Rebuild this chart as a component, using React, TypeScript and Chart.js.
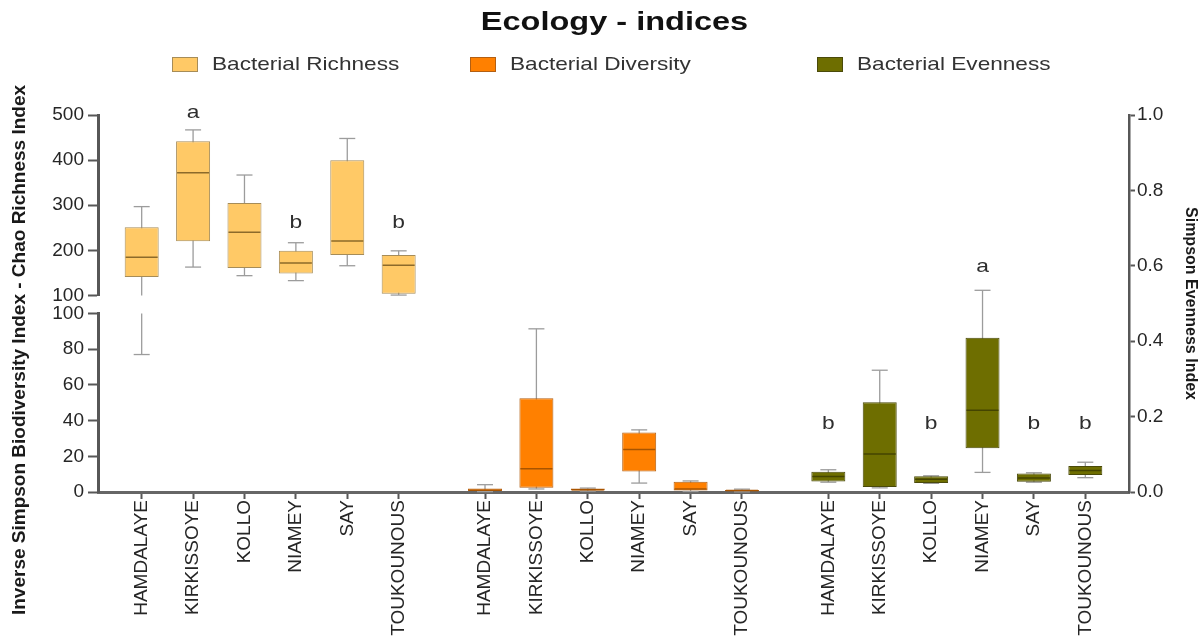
import { useEffect, useRef } from 'react';
import { Chart, registerables } from 'chart.js';

Chart.register(...registerables);

const FONT = '"Liberation Sans", Arial, Helvetica, sans-serif';
const TEXT_COLOR = '#262626';
const AXIS_COLOR = '#575757';
const WHISKER_COLOR = '#9c9c9c';

const TITLE = 'Ecology - indices';
const LEFT_TITLE = 'Inverse Simpson Biodiversity Index - Chao Richness Index';
const RIGHT_TITLE = 'Simpson Evenness Index';

const SITES = ['HAMDALAYE', 'KIRKISSOYE', 'KOLLO', 'NIAMEY', 'SAY', 'TOUKOUNOUS'];
const SERIES = ['Bacterial Richness', 'Bacterial Diversity', 'Bacterial Evenness'];

// The left axis is broken: inverse Simpson (0-100) below, Chao richness (100-500) above
const LOWER_LEFT_TICKS = [0, 20, 40, 60, 80, 100];
const UPPER_LEFT_TICKS = [100, 200, 300, 400, 500];
const RIGHT_TICKS = [0, 0.2, 0.4, 0.6, 0.8, 1.0];

// Chao richness per site
const RICHNESS_MIN = [77, 163, 144, 133, 166, 101];
const RICHNESS_Q1 = [141, 220, 161, 149, 190, 104];
const RICHNESS_MEDIAN = [185, 372, 240, 172, 221, 167];
const RICHNESS_Q3 = [251, 442, 305, 199, 400, 190];
const RICHNESS_MAX = [297, 467, 367, 217, 448, 199];
const RICHNESS_LETTERS = ['', 'a', '', 'b', '', 'b'];

// Inverse Simpson diversity per site
const DIVERSITY_MIN = [0.2, 1.7, 0.5, 5.0, 0.3, 0.1];
const DIVERSITY_Q1 = [0.5, 2.4, 0.8, 11.5, 0.8, 0.4];
const DIVERSITY_MEDIAN = [1.0, 13.0, 1.3, 23.8, 1.7, 0.8];
const DIVERSITY_Q3 = [2.0, 52.5, 1.9, 33.3, 5.8, 1.1];
const DIVERSITY_MAX = [4.1, 91.4, 2.2, 34.8, 6.2, 1.6];
const DIVERSITY_LETTERS = ['', '', '', '', '', ''];

// Simpson evenness per site
const EVENNESS_MIN = [0.026, 0.011, 0.023, 0.052, 0.026, 0.038];
const EVENNESS_Q1 = [0.028, 0.013, 0.024, 0.116, 0.027, 0.045];
const EVENNESS_MEDIAN = [0.041, 0.101, 0.034, 0.217, 0.037, 0.057];
const EVENNESS_Q3 = [0.054, 0.238, 0.042, 0.409, 0.049, 0.069];
const EVENNESS_MAX = [0.059, 0.323, 0.043, 0.535, 0.051, 0.079];
const EVENNESS_LETTERS = ['b', '', 'b', 'a', 'b', 'b'];

// layout of the site blocks along x (in site units)
const GROUP_GAP = 1.68;
const EDGE = 0.85;
const siteX = (g: number, i: number) => g * (SITES.length - 1 + GROUP_GAP) + i;
const X_POSITIONS = SERIES.flatMap((_, g) => SITES.map((__, i) => siteX(g, i)));

const SERIES_CONFIG = [
  {
    label: SERIES[0], min: RICHNESS_MIN, q1: RICHNESS_Q1, median: RICHNESS_MEDIAN, q3: RICHNESS_Q3, max: RICHNESS_MAX,
    letters: RICHNESS_LETTERS, letterLevels: { a: 506, b: 262 } as Record<string, number>,
    axis: 'yUpper', whiskerAxes: ['yUpper', 'yLower'],
    fill: '#FFC966', border: '#A68C58', medianColor: '#8C6A2A',
  },
  {
    label: SERIES[1], min: DIVERSITY_MIN, q1: DIVERSITY_Q1, median: DIVERSITY_MEDIAN, q3: DIVERSITY_Q3, max: DIVERSITY_MAX,
    letters: DIVERSITY_LETTERS, letterLevels: {} as Record<string, number>,
    axis: 'yLower', whiskerAxes: ['yLower'],
    fill: '#FF8000', border: '#B35F12', medianColor: '#A85400',
  },
  {
    label: SERIES[2], min: EVENNESS_MIN, q1: EVENNESS_Q1, median: EVENNESS_MEDIAN, q3: EVENNESS_Q3, max: EVENNESS_MAX,
    letters: EVENNESS_LETTERS, letterLevels: { a: 0.598, b: 0.182 } as Record<string, number>,
    axis: 'yRight', whiskerAxes: ['yRight'],
    fill: '#6E6E00', border: '#4A4A0A', medianColor: '#444400',
  },
];

const LEGEND_LEFT = [172, 470, 817];

const fixedTicks = (values: number[]) => (scale: any) => {
  scale.ticks = values.map((value) => ({ value }));
};

function pixelFor(scales: any[], v: number) {
  for (const s of scales) if (v >= s.min && v <= s.max) return s.getPixelForValue(v);
  return scales[0].getPixelForValue(v);
}

function strokeLine(ctx: CanvasRenderingContext2D, x1: number, y1: number, x2: number, y2: number) {
  ctx.beginPath();
  ctx.moveTo(x1, y1);
  ctx.lineTo(x2, y2);
  ctx.stroke();
}

// whiskers behind the boxes, medians and significance letters on top
const boxPlotPlugin = {
  id: 'boxPlot',
  beforeDatasetsDraw(chart: any) {
    const ctx: CanvasRenderingContext2D = chart.ctx;
    ctx.save();
    ctx.strokeStyle = WHISKER_COLOR;
    ctx.lineWidth = 1.3;
    chart.data.datasets.forEach((ds: any, di: number) => {
      const s = ds.box;
      const scales = s.whiskerAxes.map((id: string) => chart.scales[id]);
      chart.getDatasetMeta(di).data.forEach((bar: any, i: number) => {
        const x = bar.x;
        const lo = s.min[i];
        const hi = s.max[i];
        for (const sc of scales) {
          const a = Math.max(lo, sc.min);
          const b = Math.min(hi, sc.max);
          if (a < b) strokeLine(ctx, x, sc.getPixelForValue(a), x, sc.getPixelForValue(b));
        }
        for (const v of [lo, hi]) {
          const y = pixelFor(scales, v);
          strokeLine(ctx, x - 8, y, x + 8, y);
        }
      });
    });
    ctx.restore();
  },
  afterDatasetsDraw(chart: any) {
    const ctx: CanvasRenderingContext2D = chart.ctx;
    chart.data.datasets.forEach((ds: any, di: number) => {
      const s = ds.box;
      const scales = s.whiskerAxes.map((id: string) => chart.scales[id]);
      const letterScale = chart.scales[s.axis];
      chart.getDatasetMeta(di).data.forEach((bar: any, i: number) => {
        const half = bar.width / 2 - 1;
        const y = pixelFor(scales, s.median[i]);
        ctx.save();
        ctx.strokeStyle = s.medianColor;
        ctx.lineWidth = 1.5;
        strokeLine(ctx, bar.x - half, y, bar.x + half, y);
        ctx.restore();
        const letter = s.letters[i];
        if (letter) {
          ctx.save();
          ctx.fillStyle = '#2e2e2e';
          ctx.font = `19px ${FONT}`;
          ctx.textAlign = 'center';
          ctx.textBaseline = 'middle';
          ctx.translate(bar.x, letterScale.getPixelForValue(s.letterLevels[letter]));
          ctx.scale(1.2, 1);
          ctx.fillText(letter, 0, 0);
          ctx.restore();
        }
      });
    });
  },
};

// title, legend and axis titles
const headerPlugin = {
  id: 'header',
  afterDraw(chart: any) {
    const ctx: CanvasRenderingContext2D = chart.ctx;
    const area = chart.chartArea;

    ctx.save();
    ctx.fillStyle = '#111111';
    ctx.font = `bold 26px ${FONT}`;
    ctx.textAlign = 'center';
    ctx.textBaseline = 'alphabetic';
    ctx.translate((area.left + area.right) / 2 + 1, 30);
    ctx.scale(1.25, 1);
    ctx.fillText(TITLE, 0, 0);
    ctx.restore();

    chart.data.datasets.forEach((ds: any, i: number) => {
      const left = LEGEND_LEFT[i];
      ctx.save();
      ctx.fillStyle = ds.backgroundColor;
      ctx.fillRect(left, 57, 26, 15);
      ctx.strokeStyle = ds.borderColor;
      ctx.lineWidth = 1;
      ctx.strokeRect(left + 0.5, 57.5, 25, 14);
      ctx.fillStyle = '#333333';
      ctx.font = `19px ${FONT}`;
      ctx.textAlign = 'left';
      ctx.textBaseline = 'middle';
      ctx.translate(left + 40, 65);
      ctx.scale(1.19, 1);
      ctx.fillText(ds.label, 0, 0);
      ctx.restore();
    });

    ctx.save();
    ctx.fillStyle = '#1a1a1a';
    ctx.font = `bold 19px ${FONT}`;
    ctx.textAlign = 'center';
    ctx.textBaseline = 'middle';
    ctx.translate(20, 350);
    ctx.rotate(-Math.PI / 2);
    ctx.fillText(LEFT_TITLE, 0, 0);
    ctx.restore();

    ctx.save();
    ctx.fillStyle = '#1a1a1a';
    ctx.font = `bold 16px ${FONT}`;
    ctx.textAlign = 'center';
    ctx.textBaseline = 'middle';
    ctx.translate(1190, (area.top + area.bottom) / 2);
    ctx.rotate(Math.PI / 2);
    ctx.fillText(RIGHT_TITLE, 0, 0);
    ctx.restore();
  },
};

const tickFont = { family: FONT, size: 19 };

const leftAxis = (ticks: number[]) => ({
  type: 'linear',
  position: 'left',
  stack: 'left',
  min: ticks[0],
  max: ticks[ticks.length - 1],
  afterBuildTicks: fixedTicks(ticks),
  afterFit: (s: any) => { s.width = 98; },
  grid: { display: true, drawOnChartArea: false, drawTicks: true, tickLength: 10, tickWidth: 2, tickColor: AXIS_COLOR },
  border: { display: true, color: AXIS_COLOR, width: 3 },
  ticks: { font: tickFont, color: TEXT_COLOR, padding: 4, autoSkip: false },
});

export default function App() {
  const canvasRef = useRef<HTMLCanvasElement>(null);

  useEffect(() => {
    const datasets = SERIES_CONFIG.map((s, g) => ({
      type: 'bar',
      label: s.label,
      data: SITES.map((_, i) => ({ x: siteX(g, i), y: [s.q1[i], s.q3[i]] })),
      xAxisID: 'x',
      yAxisID: s.axis,
      backgroundColor: s.fill,
      borderColor: s.border,
      borderWidth: 1,
      borderSkipped: false,
      grouped: false,
      maxBarThickness: 34,
      box: s,
    }));

    const chart = new Chart(canvasRef.current as HTMLCanvasElement, {
      type: 'bar',
      data: { datasets } as any,
      options: {
        responsive: false,
        animation: false,
        events: [],
        layout: { padding: { top: 115, left: 0, right: 0, bottom: 0 } },
        plugins: {
          legend: { display: false },
          title: { display: false },
          tooltip: { enabled: false },
        },
        scales: {
          x: {
            type: 'linear',
            position: 'bottom',
            offset: false,
            min: -EDGE,
            max: X_POSITIONS[X_POSITIONS.length - 1] + EDGE,
            afterBuildTicks: fixedTicks(X_POSITIONS),
            afterFit: (s: any) => { s.height = 152; },
            grid: { display: true, offset: false, drawOnChartArea: false, drawTicks: true, tickLength: 7, tickWidth: 2, tickColor: AXIS_COLOR },
            border: { display: true, color: '#666666', width: 3 },
            ticks: {
              autoSkip: false,
              minRotation: 90,
              maxRotation: 90,
              padding: 1,
              font: tickFont,
              color: TEXT_COLOR,
              callback: (_v: any, i: number) => SITES[i % SITES.length],
            },
          },
          // stacked left axes: listed bottom first
          yLower: { ...leftAxis(LOWER_LEFT_TICKS), stackWeight: 179 },
          yGap: { type: 'linear', position: 'left', stack: 'left', stackWeight: 18, display: false, min: 0, max: 1 },
          yUpper: { ...leftAxis(UPPER_LEFT_TICKS), stackWeight: 181 },
          yRight: {
            type: 'linear',
            position: 'right',
            min: RIGHT_TICKS[0],
            max: RIGHT_TICKS[RIGHT_TICKS.length - 1],
            afterBuildTicks: fixedTicks(RIGHT_TICKS),
            afterFit: (s: any) => { s.width = 75; },
            grid: { display: true, drawOnChartArea: false, drawTicks: true, tickLength: 6, tickWidth: 2, tickColor: AXIS_COLOR },
            border: { display: true, color: AXIS_COLOR, width: 2.5 },
            ticks: { font: tickFont, color: TEXT_COLOR, padding: 2, autoSkip: false, callback: (v: any) => Number(v).toFixed(1) },
          },
        } as any,
      },
      plugins: [boxPlotPlugin, headerPlugin],
    } as any);

    return () => chart.destroy();
  }, []);

  return (
    <div style={{ position: 'fixed', left: 0, top: 0, width: 1204, height: 644, background: '#ffffff' }}>
      <canvas ref={canvasRef} width={1204} height={644} style={{ display: 'block', width: 1204, height: 644 }} />
    </div>
  );
}
